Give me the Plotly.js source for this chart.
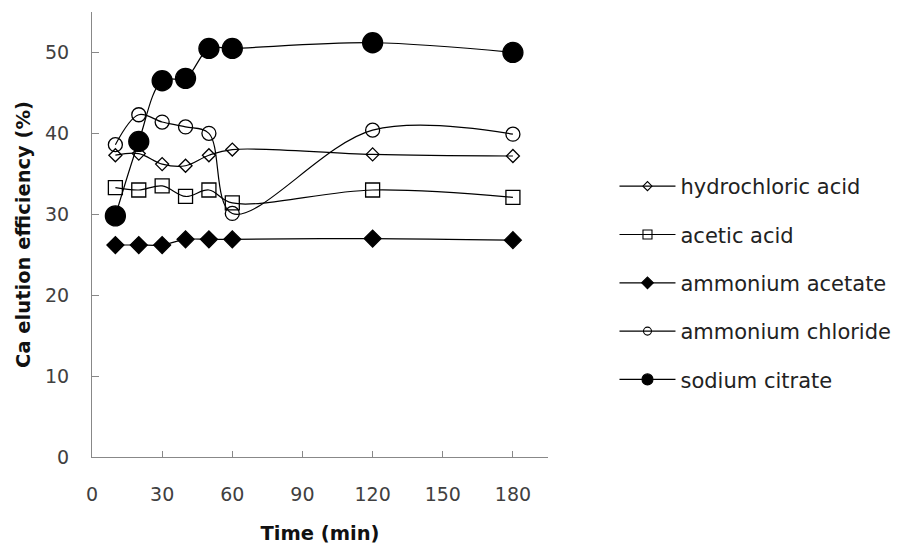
<!DOCTYPE html>
<html>
<head>
<meta charset="utf-8">
<script src="https://cdn.plot.ly/plotly-3.0.1.min.js"></script>
<style>html,body{margin:0;padding:0;background:#fff;}#chart{width:901px;height:548px;}</style>
</head>
<body>
<div id="chart"></div>
<script>
const time = [10, 20, 30, 40, 50, 60, 120, 180];
const hydrochloricAcid = [37.3, 37.5, 36.2, 36.0, 37.3, 38.0, 37.4, 37.2];
const aceticAcid = [33.3, 33.0, 33.5, 32.2, 33.0, 31.4, 33.0, 32.1];
const ammoniumAcetate = [26.2, 26.2, 26.2, 26.9, 26.9, 26.9, 27.0, 26.8];
const ammoniumChloride = [38.6, 42.3, 41.4, 40.8, 40.0, 30.1, 40.4, 39.9];
const sodiumCitrate = [29.8, 39.0, 46.5, 46.8, 50.5, 50.5, 51.2, 50.0];
const names = ['hydrochloric acid', 'acetic acid', 'ammonium acetate', 'ammonium chloride', 'sodium citrate'];
const xTicks = [0, 30, 60, 90, 120, 150, 180];
const yTicks = [0, 10, 20, 30, 40, 50];

const series = [hydrochloricAcid, aceticAcid, ammoniumAcetate, ammoniumChloride, sodiumCitrate];
const symbols = ['diamond-open', 'square-open', 'diamond', 'circle-open', 'circle'];
const plotSizes = [10, 14, 13, 14, 20];
const legendSizes = [7, 9, 9, 8, 11];

const traces = [];
// data traces (plotted)
series.forEach((ys, i) => {
  traces.push({
    x: time, y: ys, name: names[i], type: 'scatter', mode: 'lines+markers',
    showlegend: false,
    line: {color: '#000', width: 1.2, shape: 'spline', smoothing: 1},
    marker: {symbol: symbols[i], size: plotSizes[i], color: '#000', line: {width: 1.3, color: '#000'}}
  });
});
// legend entries (no data, legend only)
series.forEach((ys, i) => {
  traces.push({
    x: [null], y: [null], name: names[i], type: 'scatter', mode: 'lines+markers',
    legendgroup: 'g' + i, showlegend: true, hoverinfo: 'skip',
    line: {color: '#000', width: 1.2},
    marker: {symbol: symbols[i], size: legendSizes[i], color: '#000', line: {width: 1.1, color: '#000'}}
  });
});

const layout = {
  width: 901, height: 548,
  margin: {l: 92, r: 353, t: 12, b: 91},
  paper_bgcolor: '#fff', plot_bgcolor: '#fff',
  showlegend: true,
  legend: {
    xref: 'container', yref: 'container',
    x: 0.682, y: 0.697, xanchor: 'left', yanchor: 'top',
    traceorder: 'grouped', tracegroupgap: 18, itemsizing: 'trace', itemwidth: 56,
    font: {family: 'DejaVu Sans', size: 21, color: '#222'}
  },
  xaxis: {
    range: [0, 195], tickvals: xTicks, ticktext: xTicks.map(String),
    ticks: 'inside', ticklen: 6, tickcolor: '#888', showline: true, linecolor: '#888', linewidth: 1,
    showgrid: false, zeroline: false, ticklabelstandoff: 20, automargin: false,
    tickfont: {family: 'DejaVu Sans', size: 19, color: '#404040'},
    title: {text: 'Time (min)', font: {family: 'DejaVu Sans', size: 19.5, color: '#111', weight: 'bold'}, standoff: 22}
  },
  yaxis: {
    range: [0, 55], tickvals: yTicks, ticktext: yTicks.map(String),
    ticks: 'inside', ticklen: 7, tickcolor: '#888', showline: true, linecolor: '#888', linewidth: 1,
    showgrid: false, zeroline: false, ticklabelstandoff: 18, automargin: false,
    tickfont: {family: 'DejaVu Sans', size: 19, color: '#404040'},
    title: {text: 'Ca elution efficiency (%)', font: {family: 'DejaVu Sans', size: 19.5, color: '#111', weight: 'bold'}, standoff: 9}
  }
};

Plotly.newPlot('chart', traces, layout, {displayModeBar: false, staticPlot: true});
</script>
</body>
</html>
